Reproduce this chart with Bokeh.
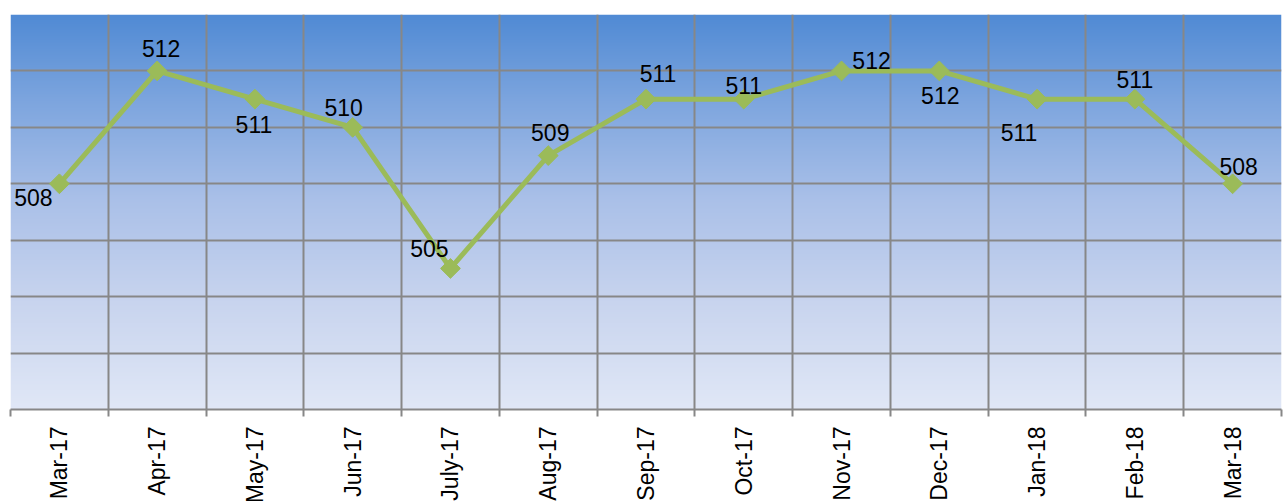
import numpy as np
from bokeh.plotting import figure
from bokeh.models import ColumnDataSource, FixedTicker
from bokeh.core.properties import value
from bokeh.embed import file_html
from bokeh.resources import INLINE

months = ["Mar-17", "Apr-17", "May-17", "Jun-17", "July-17", "Aug-17", "Sep-17",
          "Oct-17", "Nov-17", "Dec-17", "Jan-18", "Feb-18", "Mar-18"]
scores = [508, 512, 511, 510, 505, 509, 511, 511, 512, 512, 511, 511, 508]
y_ticks = [500, 502, 504, 506, 508, 510, 512, 514]

# label placement (screen px offsets from each point)
label_dx = [-26, 4, -1, -9, -21, 2, 12, 0, 30, 1, -18, 0, 6]
label_dy = [14, -22, 25, -20, -20, -23, -26, -14, -10, 25, 33, -20, -17]

n = len(months)
xs = list(range(n))
centers = xs
bounds = [i - 0.5 for i in range(n + 1)]

FONT = "Liberation Sans"
GRID = "#878787"
GREEN = "#9bbb59"

p = figure(frame_width=1271, frame_height=395, output_backend="svg",
           toolbar_location=None, x_range=(-0.5, n - 0.5), y_range=(500, 514),
           min_border_left=10, min_border_right=6, min_border_top=14,
           min_border_bottom=0)
p.outline_line_color = None
p.background_fill_color = None
p.border_fill_color = "white"

# gradient background
stops_t = [0.0, 0.22, 0.47, 0.73, 1.0]  # from top
stops_c = [(80, 138, 212), (125, 165, 222), (170, 192, 232), (200, 212, 238), (224, 231, 246)]
rows = 395
img = np.zeros((rows, 1), dtype=np.uint32)
view = img.view(dtype=np.uint8).reshape((rows, 1, 4))
for r in range(rows):
    t = 1.0 - r / (rows - 1)  # row 0 is bottom
    for ch in range(3):
        view[r, 0, ch] = int(round(np.interp(t, stops_t, [c[ch] for c in stops_c])))
    view[r, 0, 3] = 255
bg = p.image_rgba(image=[img], x=-0.5, y=500, dw=n, dh=14, level="image")

# grids
p.xaxis.ticker = FixedTicker(ticks=centers, minor_ticks=bounds)
p.xgrid.grid_line_color = None
p.xgrid.minor_grid_line_color = GRID
p.xgrid.minor_grid_line_width = 2
p.yaxis.visible = False
p.ygrid.ticker = FixedTicker(ticks=y_ticks)
p.ygrid.grid_line_color = GRID
p.ygrid.grid_line_width = 2

ax = p.xaxis[0]
ax.major_label_overrides = {i: m for i, m in enumerate(months)}
ax.major_label_orientation = np.pi / 2
ax.major_label_text_font = FONT
ax.major_label_text_font_size = "23px"
ax.major_label_text_color = "black"
ax.major_label_standoff = 10
ax.major_tick_out = 0
ax.major_tick_in = 0
ax.minor_tick_out = 7
ax.minor_tick_in = 0
ax.minor_tick_line_color = GRID
ax.minor_tick_line_width = 2
ax.axis_line_color = GRID
ax.axis_line_width = 2

src = ColumnDataSource(dict(x=xs, y=scores, lbl=[str(v) for v in scores],
                            dx=label_dx, dy=label_dy))
p.line("x", "y", source=src, line_color=GREEN, line_width=5)
p.scatter("x", "y", source=src, marker="square", size=14, angle=np.pi / 4,
          fill_color=GREEN, line_color=GREEN)
p.text("x", "y", text="lbl", source=src, x_offset="dx", y_offset="dy",
       text_align="center", text_baseline="middle", text_font=value(FONT),
       text_font_size="23px", text_color="black")

open("out.html", "w").write(file_html(p, INLINE))
